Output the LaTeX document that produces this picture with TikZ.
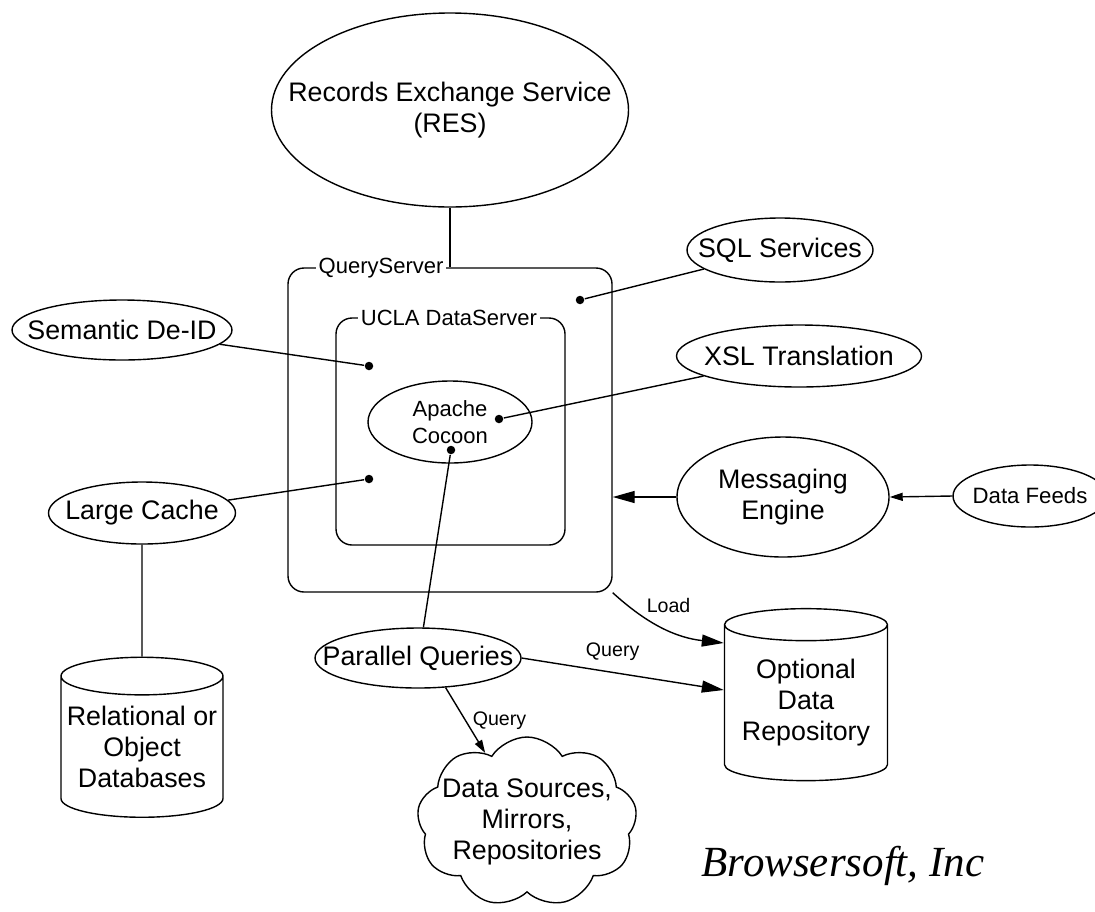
\documentclass[tikz,border=0pt]{standalone}
\usepackage{fontspec}
\setmainfont{Liberation Sans}
\newfontfamily\signfont{Liberation Serif}
\usepackage{tikz}
\usetikzlibrary{shapes.geometric}
\usetikzlibrary{shapes.symbols}
\usetikzlibrary{arrows.meta}
\usetikzlibrary{positioning}

\begin{document}
\begin{tikzpicture}[x=0.5pt,y=-0.5pt,line width=0.7pt,
  every node/.style={font=\fontsize{13.4}{15.5}\selectfont,align=center},
  oval/.style={draw,ellipse,inner xsep=-25pt,inner ysep=0pt},
  srvbox/.style={draw,rectangle,rounded corners=8pt},
  boxtag/.style={fill=white,inner xsep=1.5pt,inner ysep=0pt,font=\fontsize{11}{13}\selectfont},
  hookdot/.style={circle,fill,inner sep=1.5pt},
  store/.style={draw,cylinder,shape border rotate=90,aspect=0.25,inner sep=0pt},
  edgetag/.style={font=\fontsize{9.8}{12}\selectfont},
  bigtip/.style={-{Triangle[length=11pt,width=6pt]}},
  smalltip/.style={-{Triangle[length=6.5pt,width=4pt]}}]
  \useasboundingbox (0,0) rectangle (1095,911);

  \node[oval,minimum width=178.5pt,minimum height=97pt] (res) at (450,110) {Records Exchange Service\\(RES)};

  \node[srvbox,minimum width=162pt,minimum height=162pt] (qs) at (450,430) {};
  \node[boxtag,anchor=west] (qstag) at (315,268) {QueryServer};
  \node[srvbox,minimum width=114.5pt,minimum height=113.5pt] (ds) at (450.5,431.5) {};
  \node[boxtag] (dstag) at (449,318) {UCLA DataServer};
  \node[oval,minimum width=82pt,minimum height=41pt,font=\fontsize{11}{13.5}\selectfont] (coc) at (450,422) {Apache\\Cocoon};

  \node[hookdot] (dsql) at (580,300) {};
  \node[hookdot] (dsem) at (369,366) {};
  \node[hookdot] (dlc) at (369,479) {};
  \node[hookdot] (dxsl) at (499,419) {};
  \node[hookdot] (dcoc) at (451,450) {};

  \node[oval,minimum width=110pt,minimum height=30pt] (deid) at (122,330) {Semantic De-ID};
  \node[oval,minimum width=93pt,minimum height=32pt] (sql) at (780,250) {SQL Services};
  \node[oval,minimum width=122.5pt,minimum height=31pt] (xsl) at (799,356) {XSL Translation};
  \node[oval,minimum width=93.5pt,minimum height=31pt] (lc) at (142,513) {Large Cache};
  \node[oval,minimum width=106pt,minimum height=60pt] (me) at (783,497) {Messaging\\Engine};
  \node[oval,minimum width=77pt,minimum height=31pt,font=\fontsize{11.1}{13}\selectfont] (df) at (1030,496) {Data Feeds};
  \node[oval,minimum width=103pt,minimum height=30pt] (pq) at (418,658) {Parallel Queries};

  \node[store,minimum width=81pt,minimum height=80pt] (rdb) at (142,747) {Relational or\\Object\\Databases};
  \node[store,minimum width=81.5pt,minimum height=86pt] (odr) at (806,703) {Optional\\Data\\Repository};
  \node[draw,cloud,cloud puffs=9,cloud puff arc=115,cloud ignores aspect,minimum width=110pt,minimum height=85pt,
    label={[align=center]center:Data Sources,\\Mirrors,\\Repositories}] (src) at (527,822) {};

  \node[font=\signfont\itshape\fontsize{21.5}{24}\selectfont] (sign) at (843,866) {Browsersoft, Inc};

  \draw (res) -- (res |- qs.north);
  \draw (deid) -- (dsem);
  \draw (sql) -- (dsql);
  \draw (xsl) -- (dxsl);
  \draw (lc) -- (dlc);
  \draw (dcoc) -- (pq.80);
  \draw (lc) -- (rdb);
  \draw[bigtip] (me.west) -- (me.west -| qs.east);
  \draw[smalltip] (df.west) -- (me.east);
  \draw[bigtip] (qs.south east) to[bend right=18] node[edgetag,pos=0.42,above right=2pt and -8pt] (loadtag) {Load} ([yshift=30pt]odr.west);
  \draw[bigtip] (pq.east) -- node[edgetag,pos=0.45,above=2pt] (qtag1) {Query} ([yshift=6.5pt]odr.west);
  \draw[smalltip] (pq.-47) -- node[edgetag,midway,right] (qtag2) {Query} (src);
\end{tikzpicture}
\end{document}
